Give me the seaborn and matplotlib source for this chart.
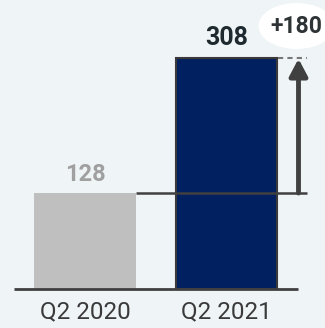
import matplotlib
matplotlib.use("Agg")
import matplotlib.pyplot as plt
from matplotlib.patches import Ellipse
import seaborn as sns
import pandas as pd

# Quarterly values
periods = ["Q2 2020", "Q2 2021"]
values = [128, 308]
bar_colors = ["#bfbfbf", "#002060"]
label_colors = ["#a0a0a0", "#1e2a2f"]
change_label = "+180"

BG = "#eff4f7"
LINE = "#404040"

sns.set_theme(style="white")
plt.rcParams["font.family"] = ["Roboto", "DejaVu Sans"]

df = pd.DataFrame({"period": periods, "value": values})

fig = plt.figure(figsize=(3.25, 3.28), dpi=100)
fig.patch.set_facecolor(BG)
ax = fig.add_axes([0, 39 / 328, 1, 289 / 328])
ax.set_facecolor(BG)

sns.barplot(data=df, x="period", y="value", hue="period", palette=bar_colors,
            width=0.72, legend=False, ax=ax, saturation=1)

# no outline on the prior bar, dark outline on the current one
ax.patches[0].set_linewidth(0)
ax.patches[1].set_edgecolor("#3a3a3a")
ax.patches[1].set_linewidth(1.5)

px = 141.5  # pixels per category unit
ax.set_xlim(-85 / px, (325 - 85) / px)
ax.set_ylim(0, 289 / 0.75)

for s in ax.spines.values():
    s.set_visible(False)
ax.set_yticks([])
ax.set_xlabel("")
ax.set_ylabel("")
ax.tick_params(axis="x", length=0, pad=8, labelsize=17.5, labelcolor="#3a3a3a")

# baseline
ax.plot([-71 / px, 213 / px], [0, 0], color=LINE, lw=2, solid_capstyle="butt",
        zorder=3, clip_on=False)

# value labels
ax.text(0, values[0] + 25, str(values[0]), ha="center", va="center",
        fontsize=17, fontweight="bold", color=label_colors[0])
ax.text(1, values[1] + 27, str(values[1]), ha="center", va="center",
        fontsize=18, fontweight="bold", color=label_colors[1])

# reference line at the prior value
x_end = 1 + 81 / px
ax.plot([0.36, x_end], [values[0], values[0]], color=LINE, lw=1.8, zorder=4,
        solid_capstyle="butt")
# dashed line at the current value
ax.plot([1 + 52 / px, x_end], [values[1], values[1]], color="#777777", lw=1.5,
        ls=(0, (2.5, 2)), zorder=4)

# growth arrow
x_arr = 1 + 72 / px
ax.annotate("", xy=(x_arr, values[1] - 1), xytext=(x_arr, values[0]),
            arrowprops=dict(arrowstyle="-|>,head_length=0.85,head_width=0.45",
                            color=LINE, lw=3.5, shrinkA=0, shrinkB=0),
            zorder=5)

# change badge
cx, cy = 1 + 70 / px, (289 - 26) / 0.75
ax.add_patch(Ellipse((cx, cy), width=76 / px, height=46 / 0.75,
                     facecolor="white", edgecolor="none", zorder=5,
                     clip_on=False))
ax.text(cx, cy - 1, change_label, ha="center", va="center", fontsize=16.5,
        fontweight="bold", color="#2e3336", zorder=6)

fig.savefig("out.png", dpi=100, facecolor=BG)
